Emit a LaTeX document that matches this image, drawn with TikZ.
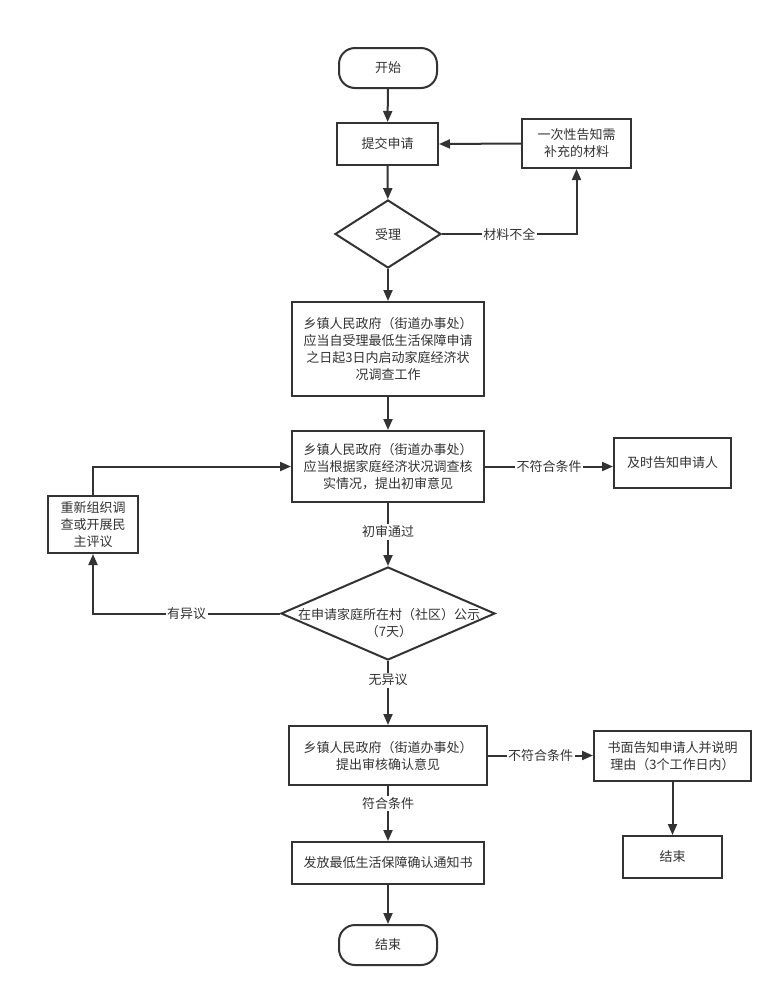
\documentclass[tikz,border=0pt]{standalone}
\usepackage{fontspec}
\setmainfont{Noto Sans CJK SC}
\usetikzlibrary{arrows.meta,shapes.geometric}
\definecolor{ink}{HTML}{333333}
\begin{document}
\begin{tikzpicture}[x=1pt,y=-1pt,
  every node/.style={font=\fontsize{13}{17}\selectfont,text=ink},
  box/.style={draw=ink,line width=2pt,fill=white,align=center,inner sep=0pt},
  term/.style={box,rounded corners=16pt},
  dia/.style={draw=ink,line width=2pt,fill=white,diamond,inner sep=0pt},
  txt/.style={align=center,inner sep=0pt},
  lbl/.style={fill=white,inner sep=1.5pt},
  flow/.style={draw=ink,line width=2pt,-{Triangle[length=11pt,width=9pt]}},
  plain/.style={draw=ink,line width=2pt}]
\useasboundingbox[fill=white] (0,0) rectangle (783,997);

\node[term,minimum width=98,minimum height=40] (start) at (388,68) {开始};
\node[box,minimum width=101,minimum height=42] (submit) at (387.5,144) {提交申请};
\node[box,minimum width=109,minimum height=49] (supp) at (576.5,143.5) {一次性告知需\\补充的材料};
\node[dia,minimum width=106,minimum height=68] (accept) at (388,234) {};
\node[txt] (accepttxt) at (388,235) {受理};
\node[box,minimum width=192,minimum height=94] (b3) at (388,349) {乡镇人民政府（街道办事处）\\应当自受理最低生活保障申请\\之日起3日内启动家庭经济状\\况调查工作};
\node[box,minimum width=192,minimum height=71] (b4) at (388,466.5) {乡镇人民政府（街道办事处）\\应当根据家庭经济状况调查核\\实情况，提出初审意见};
\node[box,minimum width=117,minimum height=50] (notify) at (672.5,463) {及时告知申请人};
\node[box,minimum width=90,minimum height=57] (reorg) at (93,524.5) {重新组织调\\查或开展民\\主评议};
\node[dia,minimum width=214,minimum height=93] (pub) at (388,613.5) {};
\node[txt] (pubtxt) at (389,623) {在申请家庭所在村（社区）公示\\（7天）};
\node[box,minimum width=198,minimum height=59] (b5) at (388,755.5) {乡镇人民政府（街道办事处）\\提出审核确认意见};
\node[box,minimum width=157,minimum height=50] (written) at (672.5,756) {书面告知申请人并说明\\理由（3个工作日内）};
\node[box,minimum width=99,minimum height=42] (endR) at (672.5,857) {结束};
\node[box,minimum width=192,minimum height=42] (b6) at (388,863) {发放最低生活保障确认通知书};
\node[term,minimum width=98,minimum height=40] (end) at (388,945) {结束};

\draw[flow] (start) -- (submit);
\draw[flow] (supp.west) -- (submit.east);
\draw[flow] (submit) -- (accept);
\draw[flow] (accept.east) -| node[lbl,pos=0.25] {材料不全} (supp.south);
\draw[flow] (accept) -- (b3);
\draw[flow] (b3) -- (b4);
\draw[flow] (b4.east) -- node[lbl] {不符合条件} (b4.east -| notify.west);
\draw[flow] (b4) -- node[lbl,pos=0.46] {初审通过} (pub);
\draw[flow] (pub.west) -| node[lbl,pos=0.25] {有异议} (reorg.south);
\draw[flow] (reorg.north) |- (b4.west);
\draw[flow] (pub) -- node[lbl,pos=0.3] {无异议} (b5);
\draw[flow] (b5.east) -- node[lbl] {不符合条件} (b5.east -| written.west);
\draw[flow] (b5) -- node[lbl,pos=0.32] {符合条件} (b6);
\draw[flow] (written) -- (endR);
\draw[flow] (b6) -- (end);
\end{tikzpicture}
\end{document}
